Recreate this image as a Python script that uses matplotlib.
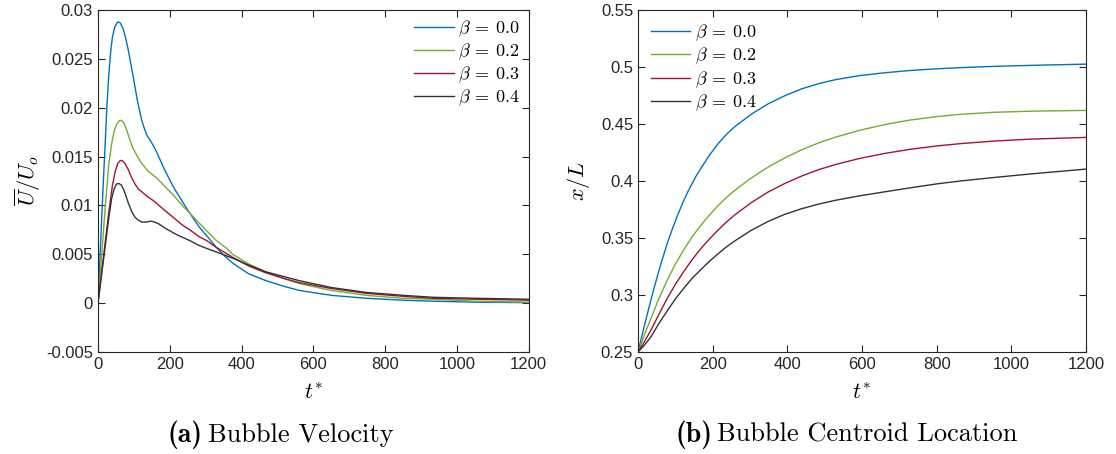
import matplotlib
matplotlib.use("Agg")
import matplotlib.pyplot as plt

plt.rcParams["mathtext.fontset"] = "cm"
plt.rcParams["font.family"] = ["Liberation Sans", "DejaVu Sans"]

betaLabels = [r"$\beta\:=\:0.0$", r"$\beta\:=\:0.2$", r"$\beta\:=\:0.3$", r"$\beta\:=\:0.4$"]
lineColors = ["#0072BD", "#77AC30", "#A2142F", "#333333"]

# (a) bubble velocity
velT00 = [0, 5, 10, 15, 20, 25, 30, 35, 40, 47, 55, 62, 70, 78, 84, 91, 98, 110, 122, 130, 136, 150, 163, 185, 210, 235, 256, 282, 303, 330, 348, 375, 420, 468, 520, 561, 650, 747, 850, 933, 1050, 1200]
velU00 = [0, 0.0042, 0.0084, 0.0125, 0.0163, 0.0203, 0.0233, 0.0256, 0.0272, 0.0283, 0.0288, 0.0287, 0.0281, 0.0270, 0.0260, 0.0246, 0.0232, 0.0207, 0.0187, 0.0178, 0.0172, 0.0164, 0.0155, 0.0137, 0.0119, 0.0104, 0.0092, 0.0078, 0.0069, 0.0057, 0.0050, 0.0041, 0.0030, 0.0023, 0.0017, 0.0013, 0.0008, 0.0005, 0.0003, 0.0002, 0.0001, 0.00005]

velT02 = [0, 10, 20, 30, 38, 45, 52, 60, 66, 73, 80, 88, 97, 110, 122, 140, 164, 185, 209, 235, 256, 282, 303, 330, 359, 375, 420, 468, 520, 561, 650, 747, 850, 933, 1050, 1200]
velU02 = [0, 0.0048, 0.0097, 0.0142, 0.0163, 0.0176, 0.0183, 0.0187, 0.0187, 0.0184, 0.0177, 0.0168, 0.0159, 0.0150, 0.0143, 0.0135, 0.0128, 0.0120, 0.0111, 0.0100, 0.0092, 0.0082, 0.0074, 0.0064, 0.0056, 0.0050, 0.0040, 0.0032, 0.0025, 0.0020, 0.0013, 0.0008, 0.0005, 0.0004, 0.0002, 0.0001]

velT03 = [0, 10, 20, 30, 40, 48, 55, 62, 68, 75, 84, 93, 103, 112, 122, 138, 154, 170, 186, 209, 235, 256, 282, 303, 330, 348, 375, 420, 468, 520, 561, 650, 747, 850, 933, 1050, 1200]
velU03 = [0, 0.0031, 0.0062, 0.0093, 0.0120, 0.0135, 0.0143, 0.0146, 0.0146, 0.0143, 0.0137, 0.0129, 0.0122, 0.0117, 0.0114, 0.0109, 0.0105, 0.0100, 0.0095, 0.0088, 0.0080, 0.0075, 0.0068, 0.0064, 0.0057, 0.0053, 0.0047, 0.0038, 0.0031, 0.0025, 0.0021, 0.0015, 0.0010, 0.0007, 0.0005, 0.0004, 0.0003]

velT04 = [0, 10, 20, 30, 38, 45, 52, 58, 65, 72, 84, 95, 103, 112, 122, 135, 148, 158, 170, 186, 205, 220, 256, 282, 303, 340, 375, 420, 468, 520, 561, 650, 747, 850, 933, 1050, 1200]
velU04 = [0, 0.0029, 0.0058, 0.0087, 0.0107, 0.0117, 0.0122, 0.01225, 0.0121, 0.0116, 0.0103, 0.0093, 0.0088, 0.0085, 0.0083, 0.0083, 0.0084, 0.0083, 0.0081, 0.0077, 0.0073, 0.0070, 0.0064, 0.0059, 0.0056, 0.0051, 0.0046, 0.0039, 0.0032, 0.0027, 0.0023, 0.0016, 0.0011, 0.0008, 0.0006, 0.0005, 0.0004]

# (b) bubble centroid location
posT00 = [0, 17, 34, 48, 61, 79, 92, 106, 120, 134, 155, 170, 192, 215, 237, 260, 305, 350, 394, 439, 484, 529, 593, 660, 728, 800, 862, 950, 1050, 1200]
posX00 = [0.25, 0.273, 0.295, 0.312, 0.327, 0.346, 0.358, 0.370, 0.381, 0.391, 0.404, 0.412, 0.423, 0.433, 0.441, 0.448, 0.459, 0.468, 0.475, 0.481, 0.4855, 0.489, 0.4925, 0.495, 0.497, 0.4985, 0.4995, 0.5006, 0.5015, 0.5026]

posT02 = [0, 17, 34, 56, 79, 100, 124, 146, 169, 191, 213, 235, 258, 294, 330, 350, 394, 439, 484, 529, 593, 660, 728, 800, 862, 950, 1050, 1200]
posX02 = [0.25, 0.265, 0.279, 0.297, 0.3135, 0.327, 0.3405, 0.3515, 0.3615, 0.370, 0.378, 0.385, 0.3915, 0.4005, 0.4085, 0.4125, 0.4205, 0.4275, 0.4335, 0.4385, 0.4445, 0.4495, 0.4535, 0.4565, 0.4585, 0.4603, 0.4613, 0.462]

posT03 = [0, 17, 34, 56, 79, 100, 124, 146, 169, 191, 213, 235, 258, 303, 348, 394, 439, 484, 529, 593, 660, 728, 800, 862, 950, 1050, 1200]
posX03 = [0.25, 0.259, 0.2688, 0.283, 0.2975, 0.3093, 0.3213, 0.3315, 0.341, 0.349, 0.3565, 0.3635, 0.370, 0.381, 0.3903, 0.398, 0.4045, 0.410, 0.4145, 0.4198, 0.4242, 0.4278, 0.4308, 0.4328, 0.435, 0.4368, 0.4383]

posT04 = [0, 17, 34, 56, 79, 100, 124, 146, 169, 191, 213, 235, 258, 303, 348, 393, 438, 483, 527, 593, 660, 728, 800, 862, 950, 1050, 1200]
posX04 = [0.25, 0.256, 0.263, 0.275, 0.2865, 0.2965, 0.3065, 0.315, 0.3225, 0.3295, 0.3358, 0.3418, 0.3472, 0.3567, 0.3645, 0.3708, 0.3757, 0.3797, 0.383, 0.387, 0.3905, 0.394, 0.3975, 0.400, 0.403, 0.4062, 0.4105]

fig = plt.figure(figsize=(11.16, 4.54), dpi=100)
axA = fig.add_axes([0.0878, 0.2247, 0.386, 0.753])
axB = fig.add_axes([0.5717, 0.2247, 0.4014, 0.753])

velSets = [(velT00, velU00), (velT02, velU02), (velT03, velU03), (velT04, velU04)]
for (t, u), c, lab in zip(velSets, lineColors, betaLabels):
    axA.plot(t, u, color=c, lw=1.0, label=lab)

posSets = [(posT00, posX00), (posT02, posX02), (posT03, posX03), (posT04, posX04)]
for (t, x), c, lab in zip(posSets, lineColors, betaLabels):
    axB.plot(t, x, color=c, lw=1.0, label=lab)

axA.set_xlim(0, 1200)
axA.set_ylim(-0.005, 0.03)
axA.set_yticks([-0.005, 0, 0.005, 0.01, 0.015, 0.02, 0.025, 0.03])
axA.set_yticklabels(["-0.005", "0", "0.005", "0.01", "0.015", "0.02", "0.025", "0.03"])
axA.set_ylabel(r"$\overline{U}/U_o$", fontsize=16, labelpad=2)

axB.set_xlim(0, 1200)
axB.set_ylim(0.25, 0.55)
axB.set_yticks([0.25, 0.3, 0.35, 0.4, 0.45, 0.5, 0.55])
axB.set_yticklabels(["0.25", "0.3", "0.35", "0.4", "0.45", "0.5", "0.55"])
axB.set_ylabel(r"$x/L$", fontsize=16, labelpad=6)

for ax in (axA, axB):
    ax.set_xticks(range(0, 1201, 200))
    ax.set_xlabel(r"$t^{*}$", fontsize=16, labelpad=8)
    ax.tick_params(direction="in", top=True, right=True, length=5, width=0.8, labelsize=12, colors="#262626")
    for s in ax.spines.values():
        s.set_color("#262626")
        s.set_linewidth(0.8)

axA.legend(loc="upper right", frameon=False, fontsize=13, handlelength=2.2, labelspacing=0.15, handletextpad=0.25, borderaxespad=0.05)
axB.legend(loc="upper left", frameon=False, fontsize=13, handlelength=2.2, labelspacing=0.15, handletextpad=0.25, borderaxespad=0.3)

capY = 1 - 442 / 454
fig.text(203 / 1116, capY, "(a)", family="cmb10", fontsize=20, ha="right", va="baseline")
fig.text(208 / 1116, capY, "Bubble Velocity", family="cmr10", fontsize=19, ha="left", va="baseline")
fig.text(712 / 1116, capY, "(b)", family="cmb10", fontsize=20, ha="right", va="baseline")
fig.text(717 / 1116, capY, "Bubble Centroid Location", family="cmr10", fontsize=19, ha="left", va="baseline")

fig.savefig("out.png", dpi=100)
